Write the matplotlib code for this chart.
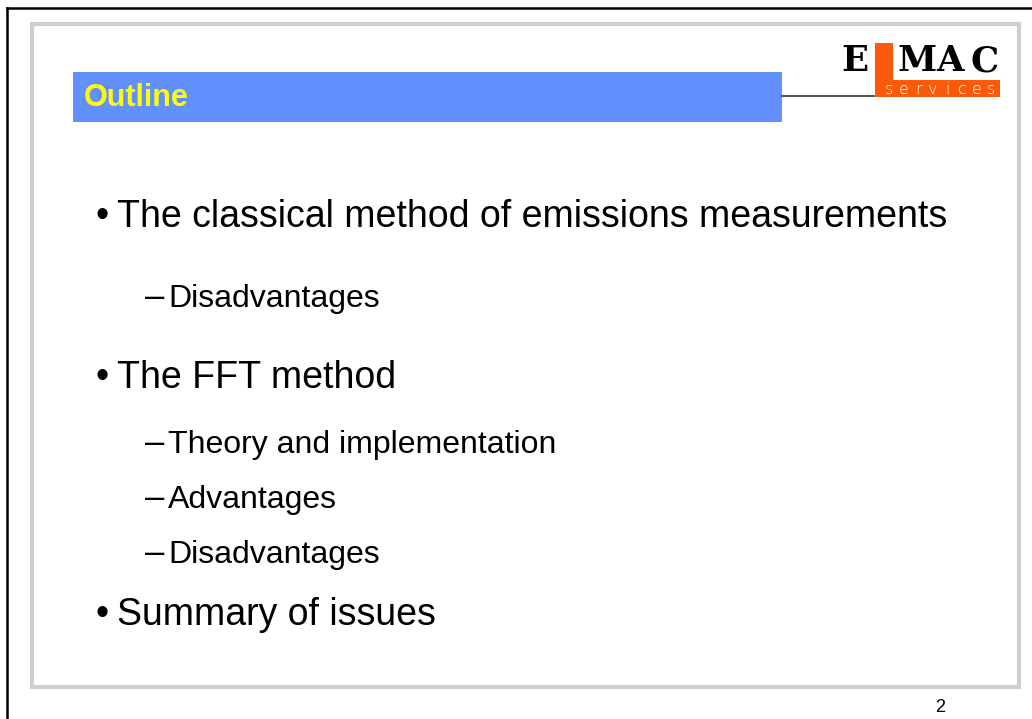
import matplotlib.pyplot as plt
from matplotlib.patches import Rectangle

title = "Outline"
bullets = ["The classical method of emissions measurements", "The FFT method", "Summary of issues"]
bullet_y = [227, 388, 625]
subitems = ["Disadvantages", "Theory and implementation", "Advantages", "Disadvantages"]
sub_y = [307, 453, 508, 563]
page_no = "2"

fig = plt.figure(figsize=(10.32, 7.19), dpi=100)
ax = fig.add_axes([0, 0, 1, 1])
ax.set_xlim(0, 1032)
ax.set_ylim(719, 0)
ax.axis("off")

# outer black edge (top + left) and grey slide frame
ax.plot([7, 1032], [8, 8], color="black", lw=1.8)
ax.plot([7, 7], [8, 719], color="black", lw=1.8)
ax.add_patch(Rectangle((32, 24), 987, 663, fill=False, ec="#cfcfcf", lw=3))

# title bar
ax.add_patch(Rectangle((73, 72), 709, 50, fc="#6290fd", ec="none"))
ax.text(84, 106, title, color="#ffff00", fontsize=22, fontweight="bold",
        family="Liberation Sans", va="baseline")
ax.plot([782, 874], [96, 96], color="#333333", lw=1.2)

# logo
ax.add_patch(Rectangle((875, 43), 18, 54, fc="#fa5a0a", ec="none"))
ax.add_patch(Rectangle((875, 80), 125, 17, fc="#fa5a0a", ec="none"))
for ch, x in zip("EMAC", [855, 917, 950, 985]):
    ax.text(x, 71, ch, fontsize=25.5, fontweight="bold", family="DejaVu Serif",
            ha="center", va="baseline")
for i, ch in enumerate("services"):
    ax.text(889 + i * 14.6, 89, ch, color="white", fontsize=11.5,
            family="DejaVu Sans", fontweight="light", ha="center", va="center")

# bullets
for txt, y in zip(bullets, bullet_y):
    ax.text(102, y, "\u2022", fontsize=27, family="Liberation Sans", ha="center", va="baseline")
    ax.text(117, y, txt, fontsize=27, family="Liberation Sans", va="baseline")
for txt, y in zip(subitems, sub_y):
    ax.text(145, y, "\u2013", fontsize=25, family="Liberation Sans", va="baseline")
    ax.text(168, y, txt, fontsize=23, family="Liberation Sans", va="baseline")

ax.text(940, 712, page_no, fontsize=13, family="Liberation Sans", ha="center", va="baseline")

fig.savefig("out.png", dpi=100)
